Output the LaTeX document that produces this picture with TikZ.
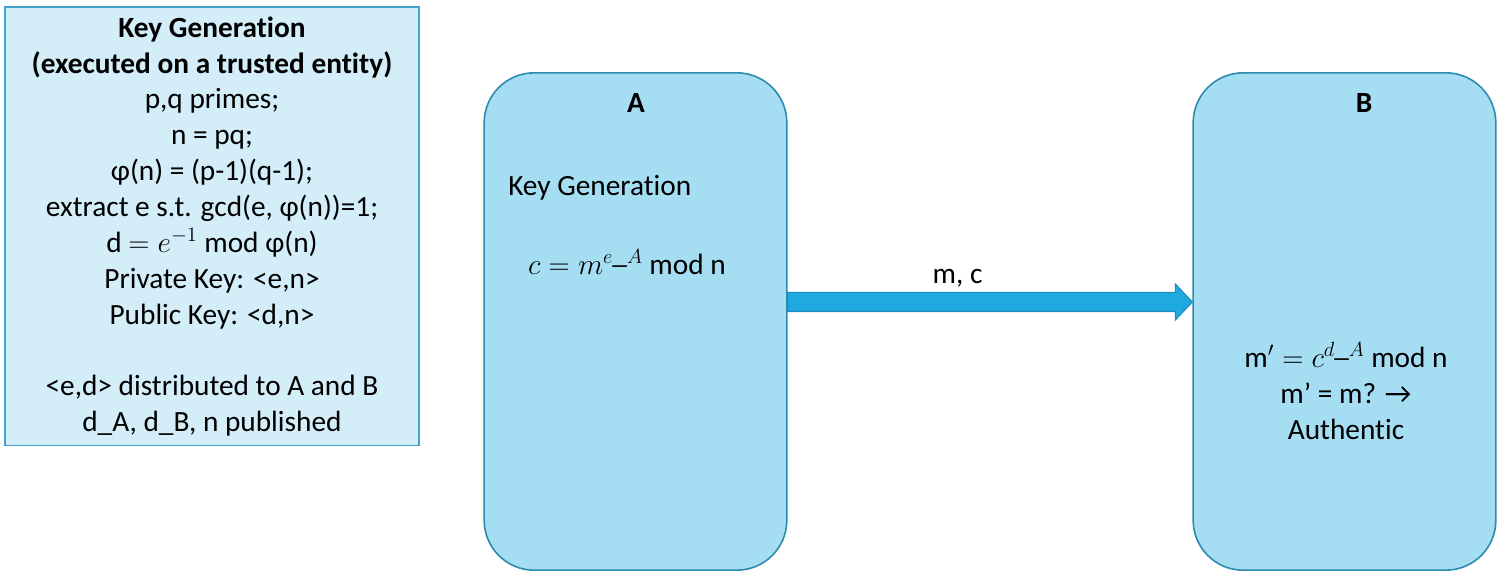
\RequirePackage{fix-cm}
\documentclass[tikz,border=0pt]{standalone}
\usepackage{fontspec}
\setmainfont{Carlito}[Ligatures=NoCommon]
\usetikzlibrary{positioning,calc}

\definecolor{partyfill}{HTML}{A5DEF2}
\definecolor{partyline}{HTML}{2E8BB0}
\definecolor{keyfill}{HTML}{D4EEF9}
\definecolor{keyline}{HTML}{45A0C8}
\definecolor{msgfill}{HTML}{1FA9E1}
\definecolor{msgline}{HTML}{1C8DBC}

\tikzset{
    party/.style={draw=partyline, fill=partyfill, line width=1.2pt,
        rounded corners=37.5pt, minimum width=227pt, minimum height=373pt},
    keybox/.style={draw=keyline, fill=keyfill, line width=1pt,
        minimum width=310.5pt, minimum height=329pt, align=center,
        font=\fontsize{22}{26.9}\selectfont},
    msgarrow/.style={draw=msgline, fill=msgfill, line width=0.8pt},
    txt/.style={inner sep=0pt, font=\fontsize{22}{27}\selectfont}
}

\begin{document}
\begin{tikzpicture}[x=0.75pt, y=-0.75pt]
    \useasboundingbox (0,0) rectangle (1507,580);

    % trusted entity
    \node[keybox] (keygen) at (212,226.5) {%
        \textbf{Key Generation}\\
        \textbf{(executed on a trusted entity)}\\
        p,q primes;\\
        n = pq;\\
        φ(n) = (p-1)(q-1);\\
        extract e s.t. gcd(e, φ(n))=1;\\
        d $= e^{-1}$ mod φ(n)\\
        Private Key: <e,n>\\
        Public Key: <d,n>\\
        \strut\\
        <e,d> distributed to A and B\\
        d\_A, d\_B, n published};

    % the two parties
    \node[party] (boxA) at (635.5,321.5) {};
    \node[party] (boxB) at (1344.5,321.5) {};

    \node[txt, font=\fontsize{22}{27}\selectfont\bfseries] (nameA) at (636,103) {A};
    \node[txt, anchor=west] (keygenA) at (508,188) {Key Generation};
    \node[txt] (encA) at (627,262) {$c = m^{e\_A}$ mod n};

    \node[txt, font=\fontsize{22}{27}\selectfont\bfseries] (nameB) at (1364,103) {B};
    \node[txt, align=center] (checkB) at (1346,391)
        {$\mathrm{m}' = c^{d\_A}$ mod n\\ m’ = m? →\\ Authentic};

    % message A -> B
    \coordinate (tail) at ($(boxA.east)+(0,-19.5)$);
    \coordinate (tip) at (boxB.west |- tail);
    \draw[msgarrow] ($(tail)+(0,-9.5)$) -- ($(tip)+(-17,-9.5)$)
        -- ($(tip)+(-17,-18)$) -- (tip) -- ($(tip)+(-17,18)$)
        -- ($(tip)+(-17,9.5)$) -- ($(tail)+(0,9.5)$) -- cycle;
    \path (tail) -- (tip) node[txt, pos=0.42, above=11pt] (msg) {m, c};
\end{tikzpicture}
\end{document}
